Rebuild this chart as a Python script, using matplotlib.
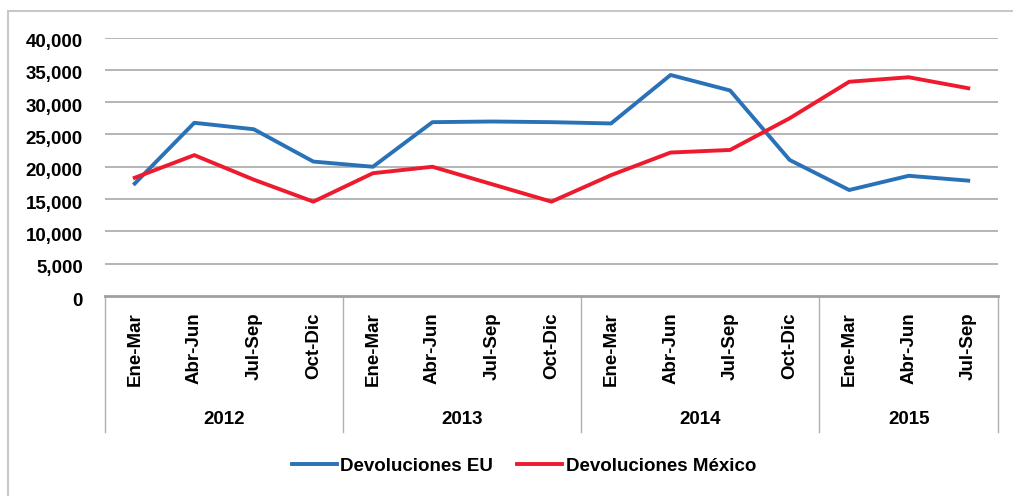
import matplotlib
matplotlib.use("Agg")
import matplotlib.pyplot as plt
from matplotlib.patches import Rectangle
import matplotlib.transforms as mtransforms

plt.rcParams['font.family'] = ['Liberation Sans', 'DejaVu Sans']
plt.rcParams['font.weight'] = 'bold'

# data
quarters = ['Ene-Mar', 'Abr-Jun', 'Jul-Sep', 'Oct-Dic'] * 3 + ['Ene-Mar', 'Abr-Jun', 'Jul-Sep']
years = ['2012', '2013', '2014', '2015']
year_counts = [4, 4, 4, 3]
dev_eu = [17400, 26800, 25800, 20800, 20000, 26900, 27000, 26900, 26700,
          34200, 31800, 21050, 16400, 18600, 17850]
dev_mex = [18300, 21800, 18000, 14600, 19000, 20000, 17300, 14600, 18700,
           22200, 22600, 27500, 33150, 33850, 32150]

blue = '#2a72b8'
red = '#ee1b2f'
grid_col = '#a8a8a8'
fs = 13.5

fig = plt.figure(figsize=(10.13, 4.96), dpi=100)
ax = fig.add_axes([105/1013, 1 - 296/496, (998-105)/1013, (296-37.5)/496])

x = list(range(len(quarters)))
ax.plot(x, dev_eu, color=blue, lw=2.8, label='Devoluciones EU', solid_joinstyle='round')
ax.plot(x, dev_mex, color=red, lw=2.8, label='Devoluciones México', solid_joinstyle='round')

ax.set_xlim(-0.5, len(quarters) - 0.5)
ax.set_ylim(0, 40000)
ax.set_yticks(range(0, 40001, 5000))
ax.set_yticklabels([f'{v:,}' for v in range(0, 40001, 5000)], fontsize=fs, fontweight='bold')
for v in range(5000, 40001, 5000):
    ax.axhline(v, color=grid_col, lw=1.2, zorder=0)

ax.set_xticks(x)
ax.set_xticklabels(quarters, rotation=90, fontsize=fs, fontweight='bold')
ax.tick_params(axis='x', length=0, pad=12)
ax.tick_params(axis='y', length=0, pad=16)

# y labels sit a little below their gridlines in the reference
shift = mtransforms.ScaledTranslation(0, -3/100, fig.dpi_scale_trans)
for lbl in ax.get_yticklabels():
    lbl.set_transform(lbl.get_transform() + shift)

for s in ['top', 'right', 'left']:
    ax.spines[s].set_visible(False)
ax.spines['bottom'].set_color('#a0a0a0')
ax.spines['bottom'].set_linewidth(2)

# group separators and year labels under the axis
trans = mtransforms.blended_transform_factory(ax.transData, ax.transAxes)
low = -(432 - 296) / (296 - 37.5)
start = -0.5
for yr, n in zip(years, year_counts):
    ax.plot([start, start], [0, low], color='#b0b0b0', lw=1, transform=trans, clip_on=False)
    ax.text(start + n / 2, -(420 - 296) / (296 - 37.5), yr, transform=trans,
            ha='center', va='center', fontsize=fs, fontweight='bold')
    start += n
ax.plot([start, start], [0, low], color='#b0b0b0', lw=1, transform=trans, clip_on=False)

# outer chart frame
fig.patches.append(Rectangle((8/1013, -0.1), 1.2, 1.1 - 11/496, transform=fig.transFigure,
                             fill=False, edgecolor='#c8c8c8', lw=1.5))

fig.legend(loc='center', bbox_to_anchor=(524/1013, 1 - 466/496), ncol=2, frameon=False,
           prop={'size': fs, 'weight': 'bold'}, handlelength=2.4, handletextpad=0.18,
           columnspacing=1.3)

fig.savefig('out.png', dpi=100, facecolor='white')
